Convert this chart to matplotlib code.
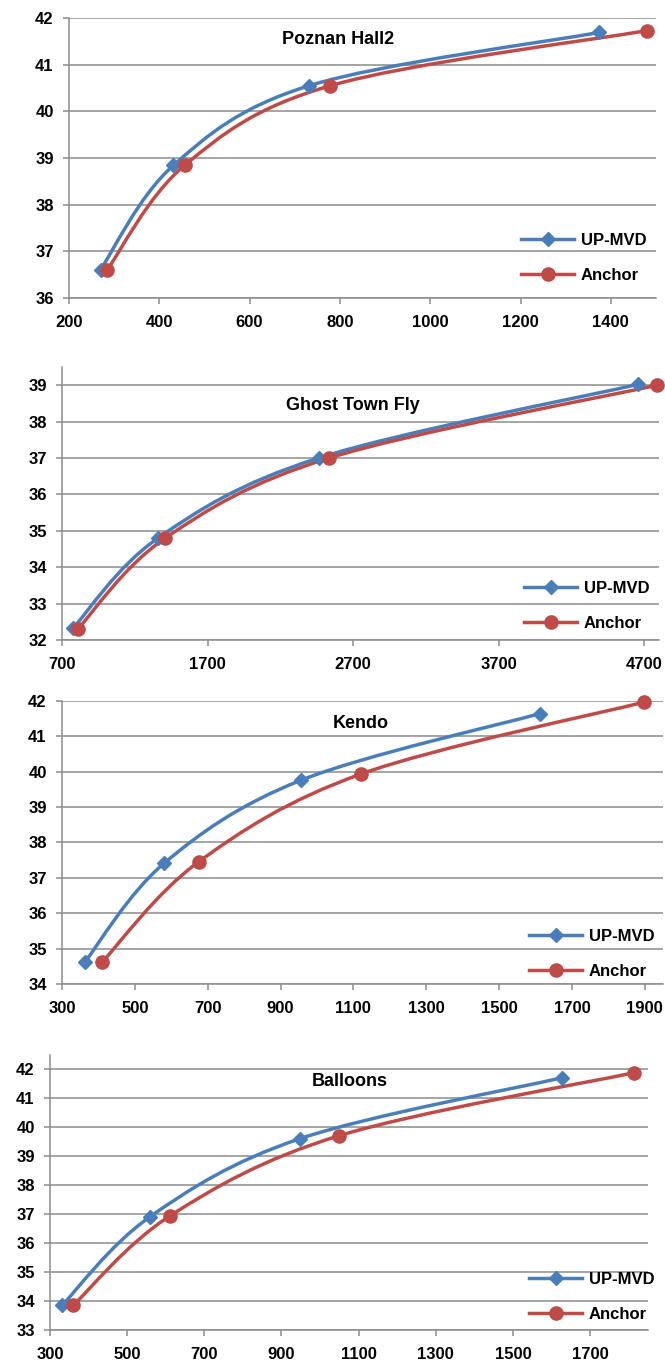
import matplotlib
matplotlib.use("Agg")
import matplotlib.pyplot as plt
from matplotlib import font_manager
from matplotlib.path import Path
from matplotlib.patches import PathPatch
from matplotlib.lines import Line2D

# ---- data ----
poznan_up_x = [270, 431, 732, 1374]
poznan_up_y = [36.61, 38.84, 40.55, 41.69]
poznan_anchor_x = [285, 457, 779, 1480]
poznan_anchor_y = [36.61, 38.85, 40.55, 41.73]

ghost_up_x = [775, 1356, 2462, 4653]
ghost_up_y = [32.32, 34.79, 37.00, 39.02]
ghost_anchor_x = [810, 1406, 2535, 4787]
ghost_anchor_y = [32.31, 34.79, 37.00, 39.00]

kendo_up_x = [362, 580, 956, 1611]
kendo_up_y = [34.61, 37.41, 39.76, 41.64]
kendo_anchor_x = [411, 676, 1122, 1899]
kendo_anchor_y = [34.63, 37.46, 39.94, 41.97]

balloons_up_x = [331, 558, 948, 1626]
balloons_up_y = [33.85, 36.90, 39.61, 41.71]
balloons_anchor_x = [360, 612, 1049, 1815]
balloons_anchor_y = [33.85, 36.95, 39.71, 41.89]

titles = ["Poznan Hall2", "Ghost Town Fly", "Kendo", "Balloons"]
series_names = ["UP-MVD", "Anchor"]

BLUE = "#4A7EBB"
RED = "#BE4B48"
GRID = "#8C8C8C"

W, H = 665, 1364

available = {f.name for f in font_manager.fontManager.ttflist}
font = "DejaVu Sans"
for cand in ["Liberation Sans", "Open Sans", "Roboto"]:
    if cand in available:
        font = cand
        break
plt.rcParams["font.family"] = [font, "DejaVu Sans"]
plt.rcParams["font.weight"] = "bold"


def smooth_path(xs, ys):
    """Excel-like smoothed line: cubic Bezier through each point."""
    pts = list(zip(xs, ys))
    n = len(pts)
    verts = [pts[0]]
    codes = [Path.MOVETO]
    for i in range(n - 1):
        p0 = pts[i - 1] if i > 0 else pts[i]
        p1 = pts[i]
        p2 = pts[i + 1]
        p3 = pts[i + 2] if i + 2 < n else pts[i + 1]
        c1 = (p1[0] + (p2[0] - p0[0]) / 6.0, p1[1] + (p2[1] - p0[1]) / 6.0)
        c2 = (p2[0] - (p3[0] - p1[0]) / 6.0, p2[1] - (p3[1] - p1[1]) / 6.0)
        verts += [c1, c2, p2]
        codes += [Path.CURVE4] * 3
    return Path(verts, codes)


# panel: pixel box (left, right, top, bottom), limits, ticks, title pos, legend pos
panels = [
    dict(box=(69, 656, 18, 298), xlim=(200, 1500), xticks=range(200, 1401, 200),
         ylim=(36, 42), yticks=range(36, 43),
         up=(poznan_up_x, poznan_up_y), anchor=(poznan_anchor_x, poznan_anchor_y),
         title_px=(338, 40), legend_px=(521, 258)),
    dict(box=(62, 659, 367, 640), xlim=(700, 4800), xticks=range(700, 4701, 1000),
         ylim=(32, 39.5), yticks=range(32, 40),
         up=(ghost_up_x, ghost_up_y), anchor=(ghost_anchor_x, ghost_anchor_y),
         title_px=(353, 406), legend_px=(524, 606)),
    dict(box=(62, 663, 701, 984), xlim=(300, 1950), xticks=range(300, 1901, 200),
         ylim=(34, 42), yticks=range(34, 43),
         up=(kendo_up_x, kendo_up_y), anchor=(kendo_anchor_x, kendo_anchor_y),
         title_px=(361, 724), legend_px=(529, 954)),
    dict(box=(50, 648, 1055, 1330), xlim=(300, 1850), xticks=range(300, 1701, 200),
         ylim=(33, 42.5), yticks=range(33, 43),
         up=(balloons_up_x, balloons_up_y), anchor=(balloons_anchor_x, balloons_anchor_y),
         title_px=(350, 1081), legend_px=(529, 1297)),
]

fig = plt.figure(figsize=(W / 100, H / 100), dpi=100)

for p, title in zip(panels, titles):
    l, r, t, b = p["box"]
    ax = fig.add_axes([l / W, 1 - b / H, (r - l) / W, (b - t) / H])
    ax.set_xlim(*p["xlim"])
    ax.set_ylim(*p["ylim"])
    ax.set_xticks(list(p["xticks"]))
    ax.set_yticks(list(p["yticks"]))
    ax.yaxis.grid(True, color=GRID, linewidth=1.1)
    ax.set_axisbelow(True)
    for side in ["top", "right"]:
        ax.spines[side].set_visible(False)
    for side in ["left", "bottom"]:
        ax.spines[side].set_color(GRID)
        ax.spines[side].set_linewidth(1.1)
    ax.tick_params(axis="y", direction="out", length=4, width=1.1, color=GRID,
                   labelsize=12, pad=7)
    ax.tick_params(axis="x", direction="out", length=4, width=1.1, color=GRID,
                   labelsize=12, pad=8)
    for lab in ax.get_xticklabels() + ax.get_yticklabels():
        lab.set_fontweight("bold")

    for (xs, ys), color, marker, ms in [(p["up"], BLUE, "D", 7.5),
                                         (p["anchor"], RED, "o", 9.5)]:
        ax.add_patch(PathPatch(smooth_path(xs, ys), fill=False, edgecolor=color,
                               linewidth=2.5, capstyle="round", joinstyle="round",
                               transform=ax.transData))
        ax.plot(xs, ys, linestyle="none", marker=marker, markersize=ms,
                color=color, markeredgecolor=color, clip_on=False, zorder=3)

    tx = (p["title_px"][0] - l) / (r - l)
    ty = (b - p["title_px"][1]) / (b - t)
    ax.text(tx, ty, title, transform=ax.transAxes, ha="center", va="center",
            fontsize=13, fontweight="bold")

    handles = [Line2D([], [], color=BLUE, linewidth=2.5, marker="D", markersize=7.5),
               Line2D([], [], color=RED, linewidth=2.5, marker="o", markersize=9.5)]
    lx = (p["legend_px"][0] - l) / (r - l)
    ly = (b - p["legend_px"][1]) / (b - t)
    ax.legend(handles, series_names, loc="center left", bbox_to_anchor=(lx, ly),
              frameon=False, borderpad=0, borderaxespad=0, handlelength=3.2,
              handletextpad=0.4, labelspacing=1.2,
              prop=dict(size=12, weight="bold"))

fig.savefig("out.png", dpi=100)
